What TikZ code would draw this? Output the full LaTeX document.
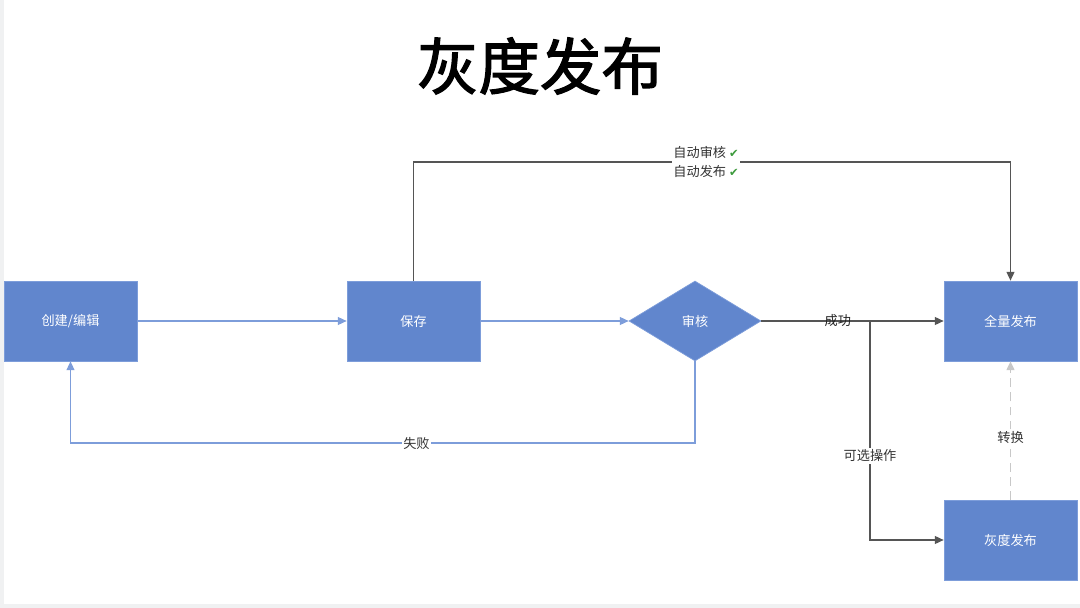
\documentclass[tikz,border=0pt]{standalone}
\usepackage{fontspec}
\setmainfont{Noto Sans CJK SC}
\newfontfamily\titlefont[FakeBold=2]{Noto Sans CJK SC}
\newfontfamily\symfont{DejaVu Sans}
\usetikzlibrary{arrows.meta,shapes.geometric}
\definecolor{boxblue}{HTML}{6186CD}
\definecolor{lineblue}{HTML}{7D9DDA}
\definecolor{linegray}{HTML}{555555}
\definecolor{dashgray}{HTML}{C8C8C8}
\definecolor{okgreen}{HTML}{3C9A3C}
\definecolor{pagegray}{HTML}{F0F1F2}
\tikzset{
  stepbox/.style={rectangle, fill=boxblue, draw=lineblue, line width=0.4pt, text=white,
    minimum width=2.66cm, minimum height=1.6cm, inner sep=0pt, font=\fontsize{7.5pt}{9pt}\selectfont},
  checkbox/.style={diamond, fill=boxblue, draw=lineblue, line width=0.4pt, text=white,
    minimum width=2.64cm, minimum height=1.6cm, inner sep=0pt, font=\fontsize{7.5pt}{9pt}\selectfont},
  edgelabel/.style={fill=white, inner sep=1pt, text=black!80, font=\fontsize{7.5pt}{9pt}\selectfont},
  blueline/.style={draw=lineblue, line width=0.6pt, -{Triangle[length=5pt,width=4.5pt]}},
  grayline/.style={draw=linegray, line width=0.7pt, -{Triangle[length=5pt,width=4.5pt]}},
  dashline/.style={draw=dashgray, line width=0.8pt, dash pattern=on 5pt off 3pt, -{Triangle[length=5pt,width=4.5pt]}}
}
\newcommand{\okmark}{{\symfont\color{okgreen}\fontsize{6.5pt}{7pt}\selectfont ✔}}
\begin{document}
\begin{tikzpicture}[x=0.02cm, y=-0.02cm]
    % page
    \useasboundingbox (0,0) rectangle (1080,608);
    \fill[pagegray] (0,0) rectangle (1080,608);
    \fill[white] (4,0) rectangle (1080,604);

    % title
    \node[font=\fontsize{35pt}{40pt}\titlefont] (title) at (540,66) {灰度发布};

    % steps
    \node[stepbox] (create) at (70.5,321) {创建/编辑};
    \node[stepbox] (save) at (413.5,321) {保存};
    \node[checkbox] (audit) at (695,321) {审核};
    \node[stepbox] (full) at (1010.5,321) {全量发布};
    \node[stepbox] (gray) at (1010.5,540) {灰度发布};

    % bends
    \coordinate (topbend) at (413.5,162);
    \coordinate (failbend) at (695,443);
    \coordinate (split) at (870,321);

    % main flow
    \draw[blueline] (create) -- (save);
    \draw[blueline] (save) -- (audit);
    \draw[blueline] (audit.south) -- (failbend) -| (create.south)
        node[edgelabel, pos=0.223] (faillbl) {失败};
    \draw[grayline] (audit.east) -- (full.west)
        node[pos=0.42, inner sep=0pt, text=black!85, font=\fontsize{7.5pt}{9pt}\selectfont] (oklbl) {成功};
    \draw[grayline] (save.north) -- (topbend) -| (full.north)
        node[edgelabel, pos=0.245, align=center, font=\fontsize{7.5pt}{10.5pt}\selectfont] (autolbl) {自动审核 \okmark\\自动发布 \okmark};
    \draw[grayline] (split) |- (gray.west)
        node[edgelabel, pos=0.308] (optlbl) {可选操作};

    % switch
    \draw[dashline] (gray.north) -- (full.south)
        node[edgelabel, pos=0.45] (switchlbl) {转换};
\end{tikzpicture}
\end{document}
